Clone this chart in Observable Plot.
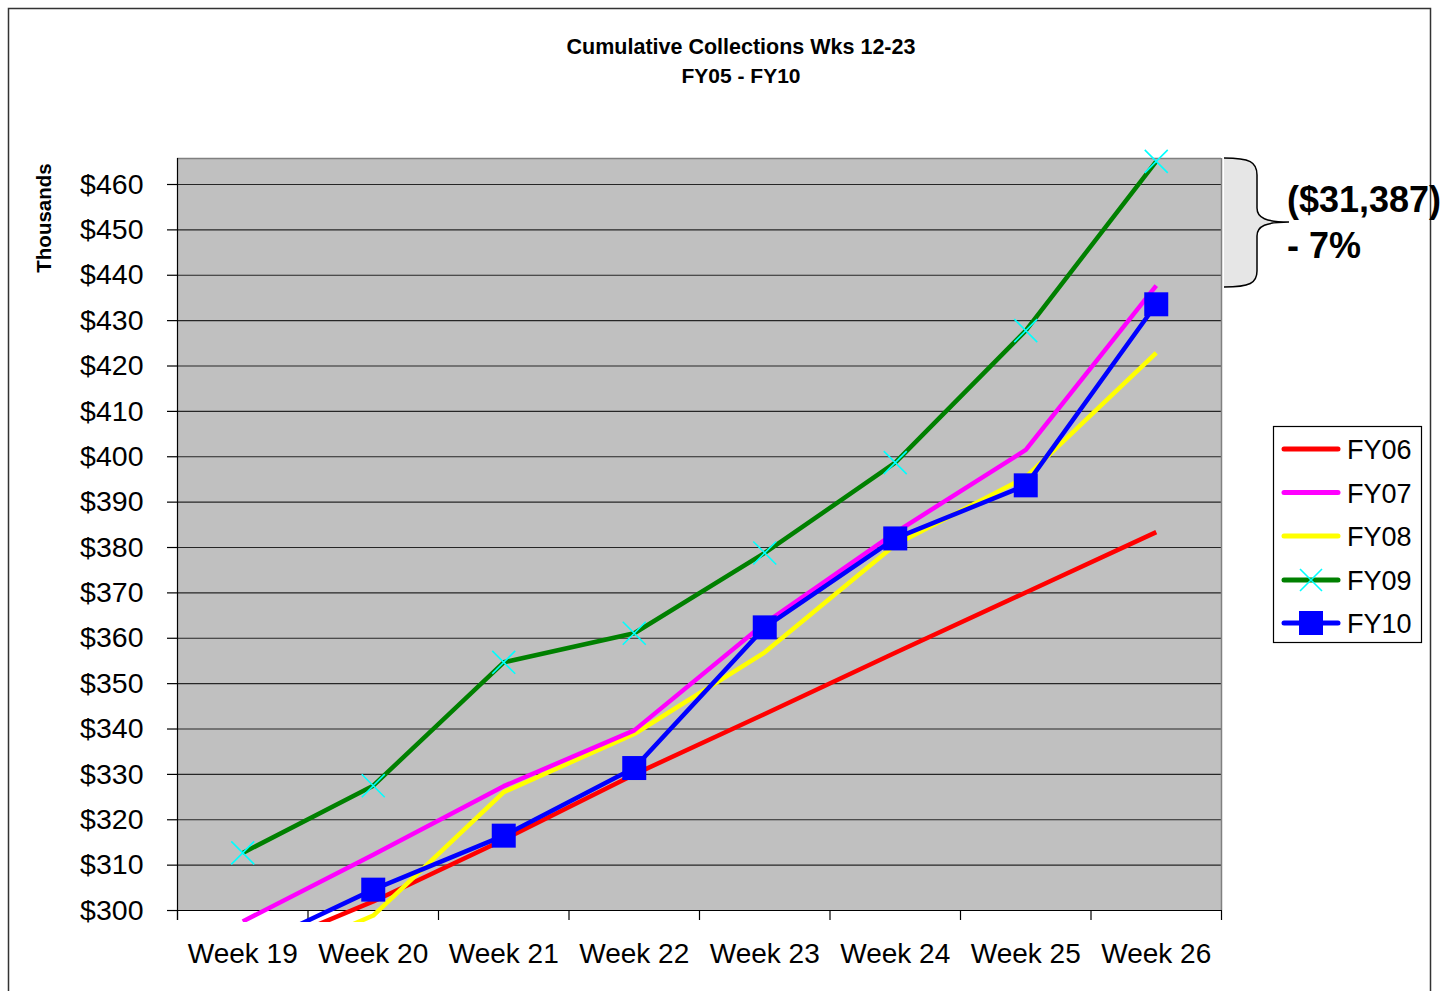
<!DOCTYPE html>
<html>
<head>
<meta charset="utf-8">
<script src="https://cdn.jsdelivr.net/npm/d3@7"></script>
<script src="https://cdn.jsdelivr.net/npm/@observablehq/plot@0.6"></script>
<style>
  html, body { margin: 0; padding: 0; background: #fff; }
  #page { position: relative; width: 1449px; height: 991px; overflow: hidden; background: #fff;
          font-family: "Liberation Sans", Arial, sans-serif; }
  #chart { position: absolute; left: 0; top: 0; }
  #overlay { position: absolute; left: 0; top: 0; pointer-events: none; }
</style>
</head>
<body>
<div id="page">
  <div id="chart"></div>
  <svg id="overlay" width="1449" height="991" xmlns="http://www.w3.org/2000/svg"></svg>
</div>
<script>
// ---- Data ----
const weeks = ["Week 19", "Week 20", "Week 21", "Week 22", "Week 23", "Week 24", "Week 25", "Week 26"];
const weekNumbers = [1, 2, 3, 4, 5, 6, 7, 8];
const seriesNames = ["FY06", "FY07", "FY08", "FY09", "FY10"];
const seriesColors = ["#ff0000", "#ff00ff", "#ffff00", "#008000", "#0000ff"];
const fy06 = [290.0, 302.0, 315.6, 330.0, 343.3, 356.8, 370.1, 383.4];
const fy07 = [297.6, 312.3, 327.4, 339.7, 363.3, 383.3, 401.5, 437.7];
const fy08 = [286.5, 298.9, 326.1, 338.9, 356.9, 380.6, 395.5, 422.9];
const fy09 = [312.7, 327.5, 354.7, 361.1, 378.8, 398.7, 427.8, 465.1];
const fy10 = [291.0, 304.6, 316.5, 331.4, 362.4, 382.0, 393.7, 433.6];
const yTicks = [300, 310, 320, 330, 340, 350, 360, 370, 380, 390, 400, 410, 420, 430, 440, 450, 460];
const title = ["Cumulative Collections Wks 12-23", "FY05 - FY10"];
const yLabel = "Thousands";
const annotation = ["($31,387)", "- 7%"];

// ---- Build rows ----
const seriesValues = {FY06: fy06, FY07: fy07, FY08: fy08, FY09: fy09, FY10: fy10};
const rowsOf = name => weekNumbers.map((w, i) => ({series: name, week: w, value: seriesValues[name][i]}));
const colorOf = name => seriesColors[seriesNames.indexOf(name)];

const yMin = 297.36, yBase = 300, yMax = 465.73;
const xMin = 0.5, xMax = weekNumbers.length + 0.5;
const bounds = d3.range(xMin, xMax + 0.01, 1);

const drawOrder = ["FY06", "FY08", "FY07", "FY09", "FY10"];
const lineMarks = drawOrder.map(name =>
  Plot.line(rowsOf(name), {x: "week", y: "value", stroke: colorOf(name), strokeWidth: 4.5,
    strokeLinejoin: "round", strokeLinecap: "butt", clip: "frame"}));

const chart = Plot.plot({
  width: 1449,
  height: 991,
  marginTop: 158,
  marginBottom: 69,
  marginLeft: 177,
  marginRight: 228,
  style: {fontFamily: "Liberation Sans, Arial, sans-serif", color: "#000", background: "transparent", overflow: "visible"},
  x: {type: "linear", domain: [xMin, xMax], label: null},
  y: {type: "linear", domain: [yMin, yMax], label: null},
  marks: [
    Plot.rect([0], {x1: xMin, x2: xMax, y1: yBase, y2: yMax, fill: "#c0c0c0"}),
    Plot.ruleY(yTicks.slice(1), {x1: xMin, x2: xMax, stroke: "#262626", strokeWidth: 1.2}),
    Plot.ruleY([yMax], {x1: xMin, x2: xMax, stroke: "#808080", strokeWidth: 1.5}),
    Plot.ruleX([xMax], {y1: yBase, y2: yMax, stroke: "#808080", strokeWidth: 1.5}),
    Plot.ruleY([yBase], {x1: xMin, x2: xMax, stroke: "#000", strokeWidth: 1.2}),
    Plot.ruleX(bounds, {y1: yBase, y2: 297.8, stroke: "#000", strokeWidth: 1.2}),
    Plot.ruleX([xMin], {y1: 297.8, y2: yMax, stroke: "#000", strokeWidth: 1.2}),
    Plot.axisY(yTicks, {anchor: "left", label: null, tickSize: 10, tickPadding: 24, tickFormat: d => "$" + d,
      fontSize: 28.5, stroke: "#000", strokeWidth: 1.2}),
    Plot.axisX(weekNumbers, {anchor: "bottom", label: null, tickSize: 0, tickPadding: 21, tickFormat: i => weeks[i - 1],
      fontSize: 28}),
    ...lineMarks,
    Plot.dot(rowsOf("FY09"), {x: "week", y: "value", symbol: "times", r: 10.5, stroke: "#00ffff", strokeWidth: 1.6}),
    Plot.dot(rowsOf("FY10"), {x: "week", y: "value", symbol: "square", r: 13.54, fill: colorOf("FY10"), stroke: "none", clip: "frame"})
  ]
});
document.getElementById("chart").appendChild(chart);

// ---- Overlay: border, titles, annotation, legend ----
const ov = d3.select("#overlay");
const ff = "Liberation Sans, Arial, sans-serif";
ov.append("rect").attr("x", 8.5).attr("y", 8.5).attr("width", 1422).attr("height", 1000)
  .attr("fill", "none").attr("stroke", "#333").attr("stroke-width", 1.5);

ov.append("text").attr("x", 741).attr("y", 54).attr("text-anchor", "middle")
  .attr("font-family", ff).attr("font-weight", "bold").attr("font-size", 21.5).text(title[0]);
ov.append("text").attr("x", 741).attr("y", 83).attr("text-anchor", "middle")
  .attr("font-family", ff).attr("font-weight", "bold").attr("font-size", 21).text(title[1]);

ov.append("text").attr("transform", "translate(51,218) rotate(-90)").attr("text-anchor", "middle")
  .attr("font-family", ff).attr("font-weight", "bold").attr("font-size", 20.5).text(yLabel);

// bracket
ov.append("path")
  .attr("d", "M1224,158 C1250,158 1257,162 1257,175 L1257,208 C1257,218 1266,222 1289,222 C1266,222 1257,226 1257,236 L1257,271 C1257,283 1250,287 1224,287 Z")
  .attr("fill", "#e6e6e6").attr("stroke", "none");
ov.append("path")
  .attr("d", "M1224,158 C1250,158 1257,162 1257,175 L1257,208 C1257,218 1266,222 1289,222 C1266,222 1257,226 1257,236 L1257,271 C1257,283 1250,287 1224,287")
  .attr("fill", "none").attr("stroke", "#000").attr("stroke-width", 1.5);
ov.append("text").attr("x", 1287).attr("y", 212).attr("font-family", ff).attr("font-weight", "bold")
  .attr("font-size", 36).text(annotation[0]);
ov.append("text").attr("x", 1287).attr("y", 258).attr("font-family", ff).attr("font-weight", "bold")
  .attr("font-size", 36).text(annotation[1]);

// legend
ov.append("rect").attr("x", 1273.5).attr("y", 426.5).attr("width", 148).attr("height", 216)
  .attr("fill", "#fff").attr("stroke", "#000").attr("stroke-width", 1.2);
const legendY = [449, 492.5, 536, 580, 623];
seriesNames.forEach((name, i) => {
  const y = legendY[i];
  const c = seriesColors[i];
  ov.append("line").attr("x1", 1284).attr("x2", 1338).attr("y1", y).attr("y2", y)
    .attr("stroke", c).attr("stroke-width", 5).attr("stroke-linecap", "round");
  if (name === "FY09") {
    const r = 11;
    ov.append("path").attr("d", `M${1311 - r},${y - r}L${1311 + r},${y + r}M${1311 - r},${y + r}L${1311 + r},${y - r}`)
      .attr("stroke", "#00ffff").attr("stroke-width", 1.6);
  }
  if (name === "FY10") {
    ov.append("rect").attr("x", 1299).attr("y", y - 12).attr("width", 24).attr("height", 24).attr("fill", c);
  }
  ov.append("text").attr("x", 1347).attr("y", y + 10).attr("font-family", ff).attr("font-size", 27).text(name);
});
</script>
</body>
</html>
